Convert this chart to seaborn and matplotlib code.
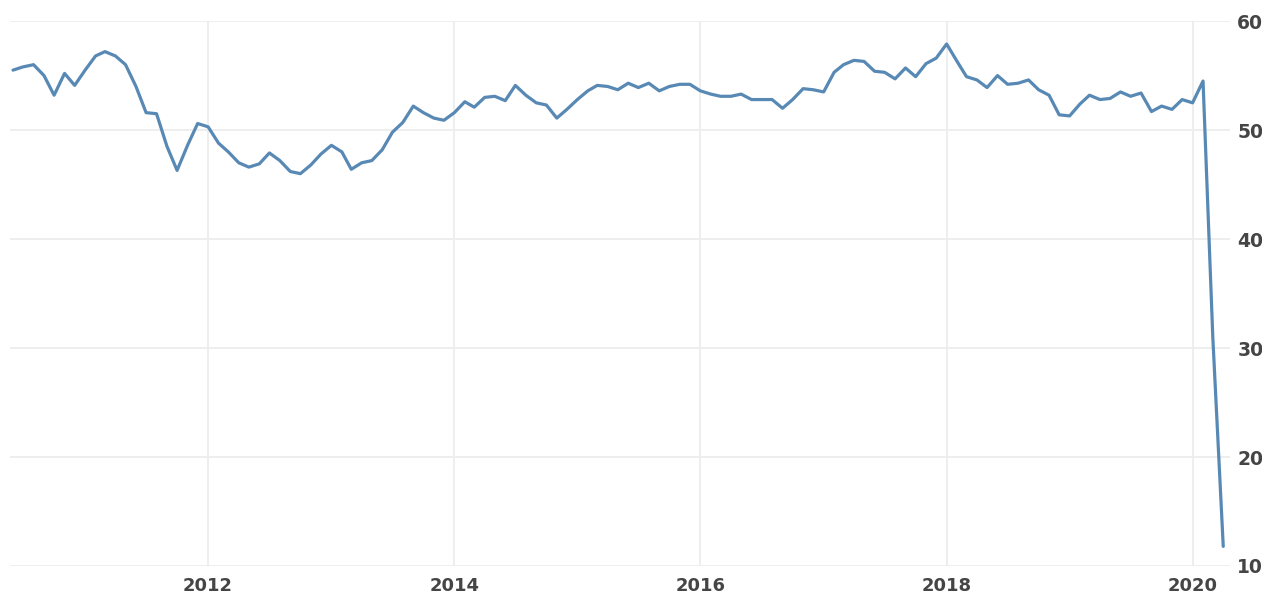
import pandas as pd
import matplotlib.pyplot as plt
import seaborn as sns

# Monthly index values (2010 starts in June, 2020 ends in April)
values_2010 = [55.5, 55.8, 56.0, 55.0, 53.2, 55.2, 54.1]
values_2011 = [55.5, 56.8, 57.2, 56.8, 56.0, 54.0, 51.6, 51.5, 48.5, 46.3, 48.6, 50.6]
values_2012 = [50.3, 48.8, 48.0, 47.0, 46.6, 46.9, 47.9, 47.2, 46.2, 46.0, 46.8, 47.8]
values_2013 = [48.6, 48.0, 46.4, 47.0, 47.2, 48.2, 49.8, 50.7, 52.2, 51.6, 51.1, 50.9]
values_2014 = [51.6, 52.6, 52.1, 53.0, 53.1, 52.7, 54.1, 53.2, 52.5, 52.3, 51.1, 51.9]
values_2015 = [52.8, 53.6, 54.1, 54.0, 53.7, 54.3, 53.9, 54.3, 53.6, 54.0, 54.2, 54.2]
values_2016 = [53.6, 53.3, 53.1, 53.1, 53.3, 52.8, 52.8, 52.8, 52.0, 52.8, 53.8, 53.7]
values_2017 = [53.5, 55.3, 56.0, 56.4, 56.3, 55.4, 55.3, 54.7, 55.7, 54.9, 56.1, 56.6]
values_2018 = [57.9, 56.3, 54.9, 54.6, 53.9, 55.0, 54.2, 54.3, 54.6, 53.7, 53.2, 51.4]
values_2019 = [51.3, 52.4, 53.2, 52.8, 52.9, 53.5, 53.1, 53.4, 51.7, 52.2, 51.9, 52.8]
values_2020 = [52.5, 54.5, 31.0, 11.8]

year_values = {
    2010: (6, values_2010), 2011: (1, values_2011), 2012: (1, values_2012),
    2013: (1, values_2013), 2014: (1, values_2014), 2015: (1, values_2015),
    2016: (1, values_2016), 2017: (1, values_2017), 2018: (1, values_2018),
    2019: (1, values_2019), 2020: (1, values_2020),
}

tick_years = [2012, 2014, 2016, 2018, 2020]
y_ticks = [10, 20, 30, 40, 50, 60]

frames = []
for year, (start_month, vals) in year_values.items():
    months = pd.date_range(f'{year}-{start_month:02d}-01', periods=len(vals), freq='MS')
    frames.append(pd.DataFrame({'month': months, 'value': vals}))
df = pd.concat(frames, ignore_index=True)

sns.set_theme(style="white")

fig = plt.figure(figsize=(12.62, 6.15), dpi=100)
ax = fig.add_axes([0.0079, 0.0797, 0.967, 0.886])

sns.lineplot(data=df, x='month', y='value', ax=ax, color='#5889b4', linewidth=2.3,
             solid_joinstyle='round', solid_capstyle='round')

ax.set_xlim(pd.Timestamp('2010-05-23'), pd.Timestamp('2020-04-22'))
ax.set_ylim(10, 60)
ax.set_xticks([pd.Timestamp(f'{y}-01-01') for y in tick_years])
ax.set_xticklabels([str(y) for y in tick_years])
ax.set_yticks(y_ticks)
ax.yaxis.tick_right()
ax.set_xlabel('')
ax.set_ylabel('')

ax.grid(True, color='#ededed', linewidth=1.3)
for s in ax.spines.values():
    s.set_visible(False)

ax.tick_params(axis='x', length=3, color='#e6e6e6', width=1.3, pad=5,
               labelsize=13, labelcolor='#454545')
ax.tick_params(axis='y', length=0, pad=5, labelsize=13.5, labelcolor='#454545')
for lab in ax.get_xticklabels() + ax.get_yticklabels():
    lab.set_fontweight('bold')

fig.savefig('out.png', dpi=100)
